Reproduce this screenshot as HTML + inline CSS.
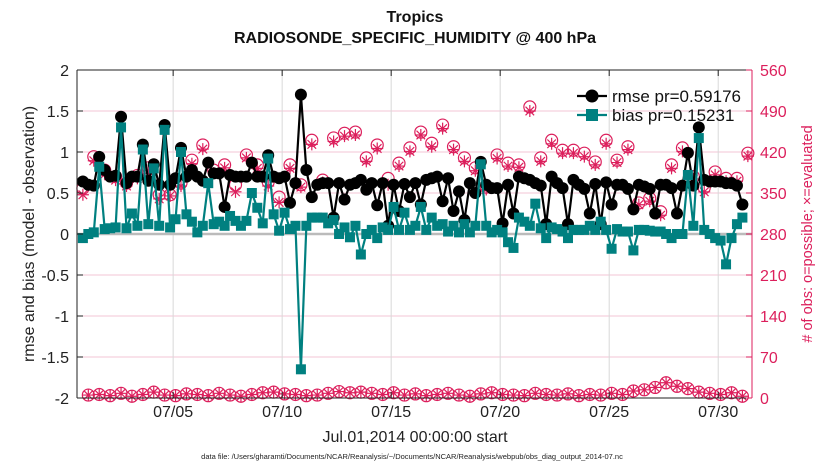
<!DOCTYPE html>
<html><head><meta charset="utf-8"><style>
body{margin:0;background:#fff;width:830px;height:470px;overflow:hidden}
svg{display:block;font-family:"Liberation Sans",Arial,sans-serif}
</style></head><body>
<svg id="c" width="830" height="470"></svg>
<script>
const rmse=[0.64,0.6,0.59,0.94,0.78,0.7,0.71,1.43,0.62,0.7,0.7,1.09,0.65,0.85,0.6,1.33,0.6,0.68,1.05,0.7,0.78,0.7,0.65,0.87,0.74,0.74,0.33,0.72,0.7,0.7,0.7,0.87,0.7,0.7,0.96,0.7,0.68,0.7,0.38,0.62,1.7,0.78,0.45,0.6,0.62,0.62,0.2,0.62,0.42,0.6,0.62,0.66,0.54,0.62,0.35,0.62,0.1,0.6,0.28,0.61,0.45,0.62,0.36,0.66,0.68,0.7,0.4,0.68,0.28,0.52,0.17,0.62,0.5,0.88,0.6,0.56,0.56,0.13,0.6,0.25,0.7,0.68,0.66,0.62,0.59,0.12,0.7,0.62,0.56,0.12,0.66,0.6,0.55,0.25,0.61,0.12,0.63,0.36,0.6,0.6,0.55,0.3,0.6,0.58,0.55,0.25,0.6,0.6,0.56,0.25,0.59,0.99,0.59,1.3,0.66,0.64,0.64,0.64,0.62,0.62,0.59,0.36];
const bias=[-0.05,0.0,0.02,0.82,0.06,0.07,0.08,1.3,0.07,0.25,0.1,1.03,0.12,0.8,0.1,1.27,0.08,0.18,1.0,0.24,0.15,0.02,0.1,0.62,0.12,0.15,0.1,0.22,0.16,0.1,0.16,0.5,0.32,0.13,0.92,0.24,0.04,0.26,0.06,0.1,-1.65,0.1,0.2,0.2,0.2,0.13,0.17,0.0,0.08,-0.04,0.1,-0.25,0.0,0.05,-0.05,0.08,0.05,0.33,0.05,0.26,0.05,0.1,0.33,0.05,0.2,0.1,0.12,0.03,0.1,0.02,0.12,0.02,0.1,0.85,0.1,0.02,0.05,0.02,-0.1,-0.17,0.2,0.15,0.1,0.37,0.07,-0.05,0.08,0.06,0.03,-0.05,0.05,0.05,0.05,0.1,0.05,0.15,0.05,-0.18,0.06,0.03,0.03,-0.2,0.05,0.05,0.04,0.03,0.03,0.0,-0.05,0.0,0.0,0.72,0.1,1.17,0.05,0.0,-0.05,-0.08,-0.37,-0.05,0.12,0.2];
const possHigh=[358,412,389,378,367,380,393,347,347,367,406,432,389,398,364,415,398,369,343,398,364,440,372,444,452,454,410,432,375,401,427,454,435,466,429,410,393,360,415,401,398,497,410,440,423,423,418,403,440,406,429,333,341,318,398,427,378,359,386,375,375,418];
const evalHigh=[347,405,382,372,362,375,388,340,345,362,400,425,384,393,352,410,392,362,334,392,360,433,368,438,447,449,404,426,364,396,421,449,429,460,424,404,388,356,409,396,394,490,404,434,418,418,412,398,434,402,424,330,336,312,392,421,374,352,381,370,370,413];
const possLow=[5,6,4,8,3,6,10,5,4,7,6,4,8,5,3,6,9,10,7,6,4,5,8,11,9,10,8,6,9,5,7,4,6,8,5,3,7,9,6,5,4,8,6,5,7,4,6,5,8,6,12,14,18,26,20,16,10,8,6,9,3];
const days=["07/05","07/10","07/15","07/20","07/25","07/30"];
const dayVals=[5,10,15,20,25,30];
const leftTicks=[2,1.5,1,0.5,0,-0.5,-1,-1.5,-2];
const rightTicks=[0,70,140,210,280,350,420,490,560];
const t0=0.86, dt=0.25;

const L=77,R=752,T=70,B=398;
const X=d=>L+(d-0.59)/(31.55-0.59)*(R-L);
const Y=v=>B-(v+2)/4*(B-T);
const YR=v=>B-v/560*(B-T);
const NS="http://www.w3.org/2000/svg";
const svg=document.getElementById('c');
function el(tag,attrs,parent){const e=document.createElementNS(NS,tag);for(const k in attrs)e.setAttribute(k,attrs[k]);(parent||svg).appendChild(e);return e;}
function txt(s,attrs,parent){const e=el('text',attrs,parent);e.textContent=s;return e;}
const MAG="#dc1f5c",TEAL="#008080";

el('rect',{x:L,y:T,width:R-L,height:B-T,fill:"#fff"});
leftTicks.forEach(v=>{const g=el('line',{x1:L,x2:R,y1:Y(v),y2:Y(v),stroke:"#f3c6d6","stroke-width":1});
});
dayVals.forEach(d=>{const g=el('line',{x1:X(d),x2:X(d),y1:T,y2:B,stroke:"#d8d8d8","stroke-width":1});
});
const z=el('line',{x1:L,x2:R,y1:Y(0),y2:Y(0),stroke:"#bbbbbb","stroke-width":2.5});


function obsMark(cx,circ,ast,g){
 if(circ!==null){el('circle',{cx:cx,cy:YR(circ),r:6,fill:"none",stroke:MAG,"stroke-width":1.2},g);}
 if(ast!==null){const y=YR(ast),s=6;
  el('path',{d:`M${cx-s} ${y}H${cx+s}M${cx} ${y-s}V${y+s}M${cx-4.3} ${y-4.3}L${cx+4.3} ${y+4.3}M${cx-4.3} ${y+4.3}L${cx+4.3} ${y-4.3}`,stroke:MAG,"stroke-width":1.2,fill:"none"},g);}
}
const og=el('g',{});
possHigh.forEach((v,k)=>obsMark(X(t0+2*k*dt),v,evalHigh[k],og));
possLow.forEach((v,k)=>obsMark(X(t0+(2*k+1)*dt),v,v,og));

const rg=el('g',{});
el('polyline',{points:rmse.map((v,i)=>X(t0+i*dt)+","+Y(v)).join(" "),fill:"none",stroke:"#000","stroke-width":2.2},rg);
rmse.forEach((v,i)=>{const c=el('circle',{cx:X(t0+i*dt),cy:Y(v),r:6,fill:"#000"},rg);
});
const bg=el('g',{});
el('polyline',{points:bias.map((v,i)=>X(t0+i*dt)+","+Y(v)).join(" "),fill:"none",stroke:TEAL,"stroke-width":2.2},bg);
bias.forEach((v,i)=>{const r=el('rect',{x:X(t0+i*dt)-5,y:Y(v)-5,width:10,height:10,fill:TEAL},bg);
});

el('line',{x1:L,x2:R,y1:T,y2:T,stroke:"#222","stroke-width":1});
el('line',{x1:L,x2:R,y1:B,y2:B,stroke:"#222","stroke-width":1});
el('line',{x1:L,x2:L,y1:T,y2:B,stroke:"#222","stroke-width":1});
el('line',{x1:R,x2:R,y1:T,y2:B,stroke:MAG,"stroke-width":1});
leftTicks.forEach(v=>{el('line',{x1:L,x2:L+6,y1:Y(v),y2:Y(v),stroke:"#222"});
const t=txt(String(v),{x:L-8,y:Y(v)+6,"text-anchor":"end","font-size":16,fill:"#222"});
});
rightTicks.forEach(v=>{el('line',{x1:R-6,x2:R,y1:YR(v),y2:YR(v),stroke:MAG});
const t=txt(String(v),{x:R+8,y:YR(v)+6,"font-size":16,fill:MAG});
});
days.forEach((s,k)=>{const x=X(dayVals[k]);el('line',{x1:x,x2:x,y1:B,y2:B-6,stroke:"#222"});el('line',{x1:x,x2:x,y1:T,y2:T+6,stroke:"#222"});
const t=txt(s,{x:x,y:B+19,"text-anchor":"middle","font-size":16,fill:"#222"});
});

const lg=el('g',{});
el('line',{x1:577,x2:607,y1:96,y2:96,stroke:"#000","stroke-width":2.2},lg);
el('circle',{cx:592,cy:96,r:6.5,fill:"#000"},lg);
txt("rmse pr=0.59176",{x:612,y:102,"font-size":17,fill:"#111"},lg);
el('line',{x1:577,x2:607,y1:115,y2:115,stroke:TEAL,"stroke-width":2.2},lg);
el('rect',{x:586,y:109,width:12,height:12,fill:TEAL},lg);
txt("bias pr=0.15231",{x:612,y:121,"font-size":17,fill:"#111"},lg);
</script>
<svg width="830" height="470" style="position:absolute;left:0;top:0">
<text x="415" y="22" text-anchor="middle" font-size="16" font-weight="bold" fill="#111" font-family="Liberation Sans">Tropics</text>
<text x="415" y="43" text-anchor="middle" font-size="16" font-weight="bold" fill="#111" font-family="Liberation Sans">RADIOSONDE_SPECIFIC_HUMIDITY @ 400 hPa</text>
<text transform="translate(34,234) rotate(-90)" text-anchor="middle" font-size="16" fill="#222" font-family="Liberation Sans">rmse and bias (model - observation)</text>
<text transform="translate(812,234) rotate(-90)" text-anchor="middle" font-size="14.5" fill="#dc1f5c" font-family="Liberation Sans"># of obs: o=possible; ×=evaluated</text>
<text x="415" y="442" text-anchor="middle" font-size="16" fill="#222" font-family="Liberation Sans">Jul.01,2014 00:00:00 start</text>
<text x="412" y="459" text-anchor="middle" font-size="7.5" fill="#222" font-family="Liberation Sans">data file: /Users/gharamti/Documents/NCAR/Reanalysis/~/Documents/NCAR/Reanalysis/webpub/obs_diag_output_2014-07.nc</text>
</svg>
</body></html>
